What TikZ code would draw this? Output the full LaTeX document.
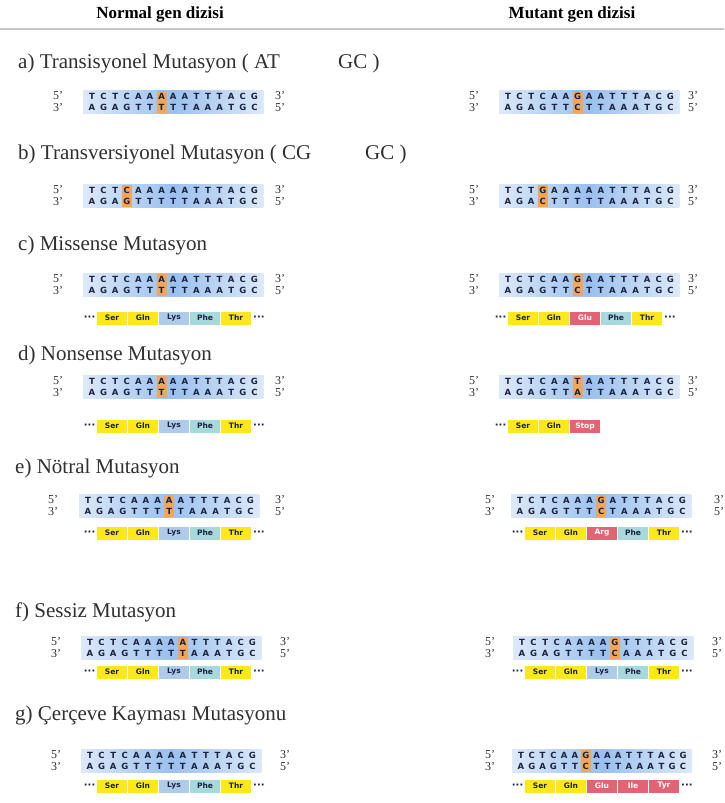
\documentclass[tikz,border=0pt]{standalone}
\usepackage{fontspec}
\setmainfont{Liberation Serif}
\newfontfamily\seqfont{DejaVu Sans}
\usetikzlibrary{calc}

\definecolor{barmid}{HTML}{9AC0EE}
\definecolor{barend}{HTML}{DDE9F8}
\definecolor{hlcol}{HTML}{F2A65A}
\definecolor{basecol}{HTML}{1A2240}
\definecolor{aay}{HTML}{FFE81A}
\definecolor{aab}{HTML}{AFCBEA}
\definecolor{aac}{HTML}{A6D8DC}
\definecolor{aar}{HTML}{E06474}
\definecolor{titlecol}{HTML}{303030}

\tikzset{
  hdr/.style={font=\bfseries\fontsize{17}{20}\selectfont, text=black, inner sep=0},
  ttl/.style={anchor=west, font=\fontsize{21}{24}\selectfont, text=titlecol, inner sep=0},
  endlbl/.style={font=\fontsize{12}{14}\selectfont, text=titlecol, inner sep=0},
  base/.style={font=\seqfont\bfseries\fontsize{8.5}{9}\selectfont, text=basecol, inner sep=0},
  aa/.style={minimum width=30, minimum height=13, inner sep=0,
             font=\seqfont\bfseries\fontsize{7.5}{8}\selectfont},
  dots/.style={font=\seqfont\bfseries\fontsize{10}{10}\selectfont, text=basecol, inner sep=0}
}

\def\pitch{11.6}
% double strand: #1 name, #2 x of left labels, #3 x of first base, #4 x of right labels,
% #5 y of upper strand, #6 upper bases, #7 lower bases, #8 marked column (0 = none)
\newcommand\dnapair[8]{%
  \foreach \b [count=\i] in {#6} {\xdef\nbases{\i}}
  \pgfmathsetmacro\ylow{#5+11.5}
  \pgfmathsetmacro\xbl{#3-9}
  \pgfmathsetmacro\xbr{#3+(\nbases-1)*\pitch+9}
  \shade[left color=barend, right color=barend, middle color=barmid]
    (\xbl,#5-5.5) rectangle (\xbr,#5+5.2);
  \shade[left color=barend, right color=barend, middle color=barmid]
    (\xbl,\ylow-5.2) rectangle (\xbr,\ylow+5.5);
  \ifnum#8>0
    \fill[hlcol] ({#3+(#8-1)*\pitch-5},#5-5.5) rectangle ++(10,22.5);
  \fi
  \foreach \b [count=\i] in {#6}
    \node[base] (#1-u\i) at ({#3+(\i-1)*\pitch},#5) {\b};
  \foreach \b [count=\i] in {#7}
    \node[base] (#1-l\i) at ({#3+(\i-1)*\pitch},\ylow) {\b};
  \node[endlbl] (#1-u5) at (#2,#5) {5'};
  \node[endlbl] (#1-l3) at (#2,\ylow) {3'};
  \node[endlbl] (#1-u3) at (#4,#5) {3'};
  \node[endlbl] (#1-l5) at (#4,\ylow) {5'};
}

% peptide strip: #1 name, #2 x of first box, #3 y, #4 list name/fill/text, #5 trailing dots
\newcommand\peptide[5]{%
  \node[dots, anchor=east] (#1-pre) at (#2-1.5,#3) {···};
  \foreach \a/\c/\t [count=\i] in {#4} {
    \node[aa, fill=\c, text=\t] (#1-\i) at ({#2+15+(\i-1)*31},#3) {\a};
    \xdef\namino{\i}
  }
  \node[dots, anchor=west] (#1-post) at ({#2+\namino*31+1},#3) {#5};
}

\begin{document}
\begin{tikzpicture}[x=1pt,y=-1pt]
\useasboundingbox (0,0) rectangle (724,803);
\fill[white] (0,0) rectangle (724,803);

% column headers
\node[hdr] (hnormal) at (160,14) {Normal gen dizisi};
\node[hdr] (hmutant) at (572,14) {Mutant gen dizisi};
\draw[black!22, line width=1.5pt] (0,29) -- (724,29);

% section titles
\node[ttl] (ta) at (18,63) {a) Transisyonel Mutasyon ( AT};
\node[ttl] (ta2) at (338,63) {GC )};
\node[ttl] (tb) at (18,154) {b) Transversiyonel Mutasyon ( CG};
\node[ttl] (tb2) at (365,154) {GC )};
\node[ttl] (tc) at (18,245) {c) Missense Mutasyon};
\node[ttl] (td) at (18,355) {d) Nonsense Mutasyon};
\node[ttl] (te) at (15,468) {e) Nötral Mutasyon};
\node[ttl] (tf) at (15,612) {f) Sessiz Mutasyon};
\node[ttl] (tg) at (15,715) {g) Çerçeve Kayması Mutasyonu};

% a) transition
\dnapair{an}{58}{92}{280}{96}{T,C,T,C,A,A,A,A,A,T,T,T,A,C,G}{A,G,A,G,T,T,T,T,T,A,A,A,T,G,C}{7}
\dnapair{am}{474}{508}{693}{96}{T,C,T,C,A,A,G,A,A,T,T,T,A,C,G}{A,G,A,G,T,T,C,T,T,A,A,A,T,G,C}{7}

% b) transversion
\dnapair{bn}{58}{92}{280}{190}{T,C,T,C,A,A,A,A,A,T,T,T,A,C,G}{A,G,A,G,T,T,T,T,T,A,A,A,T,G,C}{4}
\dnapair{bm}{474}{508}{693}{190}{T,C,T,G,A,A,A,A,A,T,T,T,A,C,G}{A,G,A,C,T,T,T,T,T,A,A,A,T,G,C}{4}

% c) missense
\dnapair{cn}{58}{92}{280}{279}{T,C,T,C,A,A,A,A,A,T,T,T,A,C,G}{A,G,A,G,T,T,T,T,T,A,A,A,T,G,C}{7}
\dnapair{cm}{474}{508}{693}{279}{T,C,T,C,A,A,G,A,A,T,T,T,A,C,G}{A,G,A,G,T,T,C,T,T,A,A,A,T,G,C}{7}
\peptide{cpn}{97}{318}{Ser/aay/basecol, Gln/aay/basecol, Lys/aab/basecol, Phe/aac/basecol, Thr/aay/basecol}{···}
\peptide{cpm}{508}{318}{Ser/aay/basecol, Gln/aay/basecol, Glu/aar/white, Phe/aac/basecol, Thr/aay/basecol}{···}

% d) nonsense
\dnapair{dn}{58}{92}{280}{381}{T,C,T,C,A,A,A,A,A,T,T,T,A,C,G}{A,G,A,G,T,T,T,T,T,A,A,A,T,G,C}{7}
\dnapair{dm}{474}{508}{693}{381}{T,C,T,C,A,A,T,A,A,T,T,T,A,C,G}{A,G,A,G,T,T,A,T,T,A,A,A,T,G,C}{7}
\peptide{dpn}{97}{426}{Ser/aay/basecol, Gln/aay/basecol, Lys/aab/basecol, Phe/aac/basecol, Thr/aay/basecol}{···}
\peptide{dpm}{508}{426}{Ser/aay/basecol, Gln/aay/basecol, Stop/aar/white}{}

% e) neutral
\dnapair{en}{53}{88}{280}{500}{T,C,T,C,A,A,A,A,A,T,T,T,A,C,G}{A,G,A,G,T,T,T,T,T,A,A,A,T,G,C}{8}
\dnapair{em}{490}{520}{719}{500}{T,C,T,C,A,A,A,G,A,T,T,T,A,C,G}{A,G,A,G,T,T,T,C,T,A,A,A,T,G,C}{8}
\peptide{epn}{97}{533}{Ser/aay/basecol, Gln/aay/basecol, Lys/aab/basecol, Phe/aac/basecol, Thr/aay/basecol}{···}
\peptide{epm}{525}{533}{Ser/aay/basecol, Gln/aay/basecol, Arg/aar/white, Phe/aac/basecol, Thr/aay/basecol}{···}

% f) silent
\dnapair{fn}{56}{90}{285}{642}{T,C,T,C,A,A,A,A,A,T,T,T,A,C,G}{A,G,A,G,T,T,T,T,T,A,A,A,T,G,C}{9}
\dnapair{fm}{490}{522}{717}{642}{T,C,T,C,A,A,A,A,G,T,T,T,A,C,G}{A,G,A,G,T,T,T,T,C,A,A,A,T,G,C}{9}
\peptide{fpn}{97}{672}{Ser/aay/basecol, Gln/aay/basecol, Lys/aab/basecol, Phe/aac/basecol, Thr/aay/basecol}{···}
\peptide{fpm}{525}{672}{Ser/aay/basecol, Gln/aay/basecol, Lys/aab/basecol, Phe/aac/basecol, Thr/aay/basecol}{···}

% g) frameshift
\dnapair{gn}{56}{90}{285}{755}{T,C,T,C,A,A,A,A,A,T,T,T,A,C,G}{A,G,A,G,T,T,T,T,T,A,A,A,T,G,C}{0}
\def\pitch{10.8}
\dnapair{gm}{490}{521}{717}{755}{T,C,T,C,A,A,G,A,A,A,T,T,T,A,C,G}{A,G,A,G,T,T,C,T,T,T,A,A,A,T,G,C}{7}
\peptide{gpn}{97}{786}{Ser/aay/basecol, Gln/aay/basecol, Lys/aab/basecol, Phe/aac/basecol, Thr/aay/basecol}{···}
\peptide{gpm}{525}{786}{Ser/aay/basecol, Gln/aay/basecol, Glu/aar/white, Ile/aar/white, Tyr/aar/white}{···}
\end{tikzpicture}
\end{document}
